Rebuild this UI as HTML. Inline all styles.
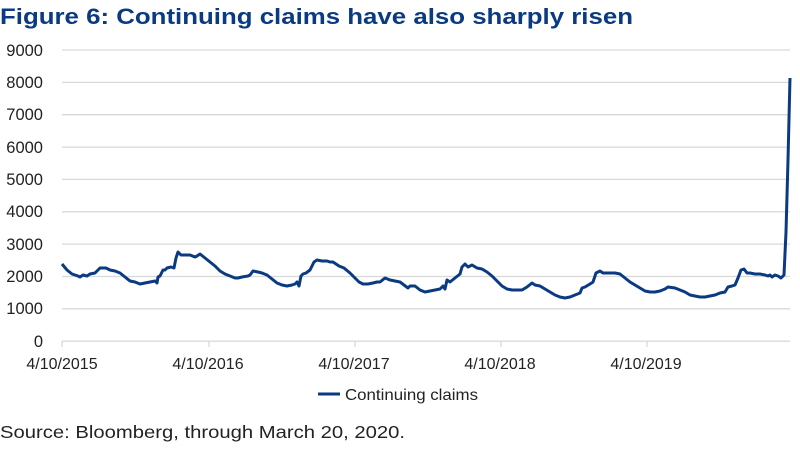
<!DOCTYPE html>
<html><head><meta charset="utf-8"><style>
body{margin:0;background:#fff;width:800px;height:449px;overflow:hidden;font-family:"Liberation Sans",sans-serif}
</style></head><body>
<svg width="800" height="449" xmlns="http://www.w3.org/2000/svg" font-family="Liberation Sans, sans-serif">
<text x="0" y="24" font-size="22.5" font-weight="bold" fill="#0a3a82" textLength="633" lengthAdjust="spacingAndGlyphs">Figure 6: Continuing claims have also sharply risen</text>
<g stroke="#d9d9d9" stroke-width="1.3">
<line x1="62" x2="790" y1="50" y2="50"/><line x1="62" x2="790" y1="82.4" y2="82.4"/><line x1="62" x2="790" y1="114.7" y2="114.7"/><line x1="62" x2="790" y1="147.1" y2="147.1"/><line x1="62" x2="790" y1="179.4" y2="179.4"/><line x1="62" x2="790" y1="211.8" y2="211.8"/><line x1="62" x2="790" y1="244.1" y2="244.1"/><line x1="62" x2="790" y1="276.5" y2="276.5"/><line x1="62" x2="790" y1="308.8" y2="308.8"/><line x1="62" x2="790" y1="341.2" y2="341.2"/>
<line x1="62" x2="62" y1="341" y2="347"/><line x1="209" x2="209" y1="341" y2="347"/><line x1="355" x2="355" y1="341" y2="347"/><line x1="501" x2="501" y1="341" y2="347"/><line x1="647" x2="647" y1="341" y2="347"/>
</g>
<g font-size="16.5" fill="#222" text-anchor="end">
<text x="43" y="56">9000</text><text x="43" y="88">8000</text><text x="43" y="120">7000</text><text x="43" y="153">6000</text><text x="43" y="185">5000</text><text x="43" y="217">4000</text><text x="43" y="250">3000</text><text x="43" y="282">2000</text><text x="43" y="314">1000</text><text x="43" y="347">0</text>
</g>
<g font-size="16" fill="#222" text-anchor="middle">
<text x="62" y="369">4/10/2015</text><text x="208" y="369">4/10/2016</text><text x="354" y="369">4/10/2017</text><text x="500" y="369">4/10/2018</text><text x="646" y="369">4/10/2019</text>
</g>
<polyline fill="none" stroke="#0a3a82" stroke-width="3" stroke-linejoin="round" points="62,264 67,270 72,274 78,276 80,277 83,275 87,276 90,274 95,273 98,270 100,268 106,268 110,270 115,271 120,273 125,277 130,281 135,282 140,284 145,283 150,282 155,281 157,283 158,277 160,276 163,270 165,270 167,268 171,267 174,268 176,258 178,252 181,255 185,255 190,255 195,257 197,256 200,254 205,258 210,262 215,266 220,271 225,274 230,276 235,278 238,278 242,277 248,276 250,275 253,271 258,272 262,273 267,275 272,279 277,283 282,285 287,286 292,285 295,284 297,282 299,286 301,276 303,274 306,273 310,270 314,262 317,260 322,261 327,261 330,262 333,262 336,264 339,266 344,268 350,273 355,278 359,282 363,284 368,284 373,283 377,282 380,282 385,278 390,280 395,281 400,282 404,285 408,288 410,286 415,286 420,290 425,292 430,291 435,290 440,289 443,286 445,289 447,280 450,282 455,278 460,274 462,267 465,264 468,267 472,265 477,268 482,269 487,272 492,276 497,281 502,286 507,289 512,290 517,290 522,290 527,287 532,283 535,285 540,286 545,289 550,292 555,295 560,297 565,298 570,297 575,295 580,293 582,288 585,287 590,284 593,282 596,273 600,271 603,273 610,273 615,273 620,274 625,278 630,282 635,285 640,288 645,291 650,292 655,292 660,291 665,289 668,287 675,288 680,290 685,292 690,295 695,296 700,297 705,297 710,296 715,295 720,293 725,292 728,287 732,286 735,285 738,278 741,270 744,269 747,273 750,273 755,274 760,274 765,275 768,276 770,275 772,277 775,275 778,276 781,278 784,275 786,232 788,160 790,78"/>
<line x1="318" x2="340" y1="394" y2="394" stroke="#0a3a82" stroke-width="3"/>
<text x="345" y="400" font-size="16" fill="#222" textLength="133" lengthAdjust="spacingAndGlyphs">Continuing claims</text>
<text x="0" y="438" font-size="17.5" fill="#222" textLength="405" lengthAdjust="spacingAndGlyphs">Source: Bloomberg, through March 20, 2020.</text>
</svg>
</body></html>
